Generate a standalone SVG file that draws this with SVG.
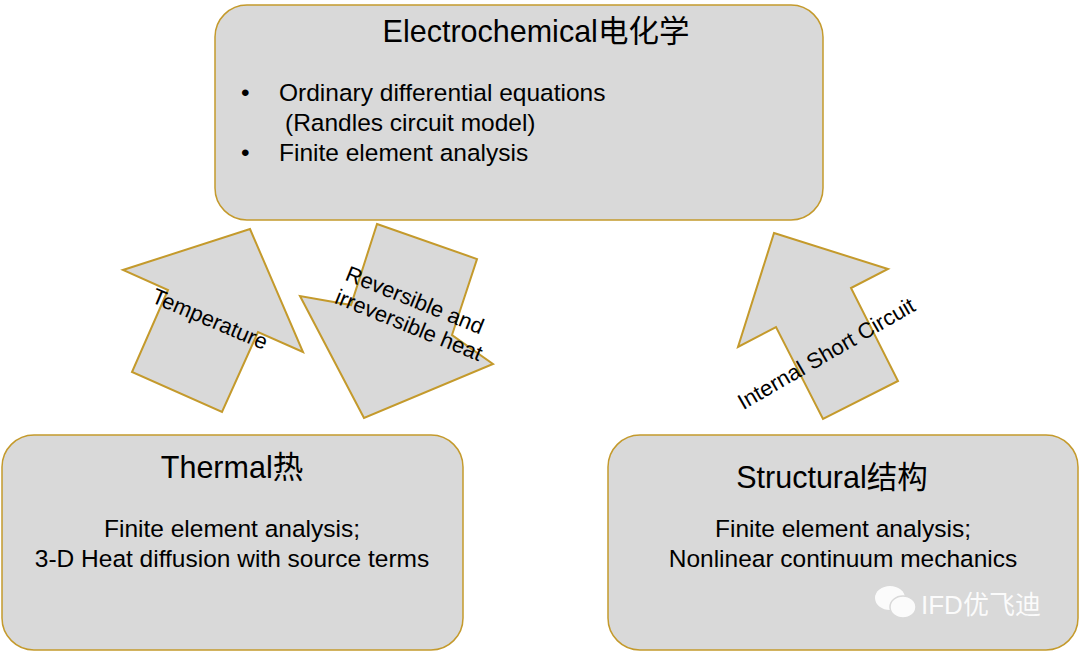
<svg xmlns="http://www.w3.org/2000/svg" width="1080" height="651" viewBox="0 0 1080 651">
<style>
.box{fill:#d9d9d9;stroke:#c49a2c;stroke-width:1.5}
.arr{fill:#d9d9d9;stroke:#c49a2c;stroke-width:2;stroke-linejoin:miter}
text{font-family:Arial,"Liberation Sans","Noto Sans CJK SC",sans-serif;fill:#000}
.t{font-size:30.5px}
.b{font-size:24.5px}
.a{font-size:22px}
</style>
<rect width="1080" height="651" fill="#fff"/>
<g id="electrochemical">
<rect class="box" x="215" y="5" width="608" height="215" rx="32"/>
<text class="t" x="536" y="42" text-anchor="middle">Electrochemical电化学</text>
<text class="b" x="241" y="101">•</text>
<text class="b" x="279" y="101">Ordinary differential equations</text>
<text class="b" x="285" y="131">(Randles circuit model)</text>
<text class="b" x="241" y="161">•</text>
<text class="b" x="279" y="161">Finite element analysis</text>
</g>
<g id="thermal">
<rect class="box" x="2" y="435" width="461" height="215" rx="32"/>
<text class="t" x="232" y="478" text-anchor="middle">Thermal热</text>
<text class="b" x="232" y="537" text-anchor="middle">Finite element analysis;</text>
<text class="b" x="232" y="567" text-anchor="middle">3-D Heat diffusion with source terms</text>
</g>
<g id="structural">
<rect class="box" x="608" y="435" width="470" height="215" rx="32"/>
<text class="t" x="832" y="488" text-anchor="middle">Structural结构</text>
<text class="b" x="843" y="537" text-anchor="middle">Finite element analysis;</text>
<text class="b" x="843" y="567" text-anchor="middle">Nonlinear continuum mechanics</text>
</g>
<g id="connectors">
<g id="temperature">
<polygon class="arr" points="250,229 303,352 258,332 222,412 132,372 168,290 123,270"/>
<text class="a" transform="translate(207,326) rotate(23)" text-anchor="middle">Temperature</text>
</g>
<g id="heat">
<polygon class="arr" points="377,224 477,259 452,335 493,364 364,418 300,296 351,305"/>
<text class="a" transform="translate(412,307) rotate(22)" text-anchor="middle">Reversible and</text>
<text class="a" transform="translate(406,332) rotate(22)" text-anchor="middle">irreversible heat</text>
</g>
<g id="isc">
<polygon class="arr" points="774,233 888,269 851,288 898,381 823,419 776,327 738,347"/>
<text class="a" transform="translate(830,360) rotate(-30)" text-anchor="middle">Internal Short Circuit</text>
</g>
</g>
<g id="watermark" opacity="0.9">
<ellipse cx="890" cy="598" rx="15" ry="12" fill="#fff"/>
<ellipse cx="903" cy="607" rx="13" ry="11" fill="#fff" stroke="#d9d9d9" stroke-width="1.5"/>
<text x="921" y="614" font-size="26" style="fill:#fff">IFD优飞迪</text>
</g>
</svg>
